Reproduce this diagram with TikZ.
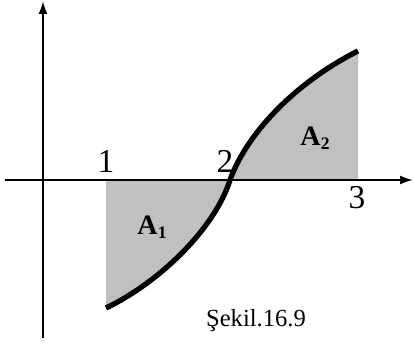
\documentclass[tikz,border=0pt]{standalone}
\usepackage{fontspec}
\setmainfont{Liberation Serif}
\usetikzlibrary{arrows.meta}
\definecolor{areagray}{HTML}{C0C0C0}

\begin{document}
\begin{tikzpicture}[x=0.02cm,y=-0.02cm,
    axis/.style={line width=1.1pt,-{Latex[length=0.26cm,width=0.18cm]}},
    curve/.style={line width=3pt},
    area/.style={fill=areagray},
    tick/.style={font=\fontsize{19}{19}\selectfont,inner sep=0pt,anchor=base},
    region/.style={font=\fontsize{16}{16}\selectfont\bfseries,inner sep=0pt,anchor=base}]
  \useasboundingbox (0,0) rectangle (413,345);
  \coordinate (xs) at (5,180);
  \coordinate (xe) at (413,180);
  \coordinate (ys) at (43,338);
  \coordinate (ye) at (43,1);
  \coordinate (p1) at (106,308);
  \coordinate (p2) at (230,180);
  \coordinate (p3) at (358,51);
  \coordinate (a1) at (106,180);
  \coordinate (a3) at (358,180);
  % shaded areas
  \fill[area] (a1) -- (p1) .. controls (160,282) and (215,228) .. (p2) -- cycle;
  \fill[area] (p2) .. controls (248,130) and (300,80) .. (p3) -- (a3) -- cycle;
  % axes and curve
  \draw[axis] (xs) -- (xe);
  \draw[axis] (ys) -- (ye);
  \draw[curve] (p1) .. controls (160,282) and (215,228) .. (p2)
    .. controls (248,130) and (300,80) .. (p3);
  % labels
  \node[tick] (t1) at (106,172) {1};
  \node[tick] (t2) at (225,172) {2};
  \node[tick] (t3) at (357,208) {3};
  \node[region] (A1) at (152,234) {A\raisebox{-0.35ex}{\fontsize{10}{10}\selectfont 1}};
  \node[region] (A2) at (315,145) {A\raisebox{-0.35ex}{\fontsize{10}{10}\selectfont 2}};
  \node[font=\fontsize{14}{14}\selectfont,inner sep=0pt,anchor=base] (cap) at (256,326) {Şekil.16.9};
\end{tikzpicture}
\end{document}
